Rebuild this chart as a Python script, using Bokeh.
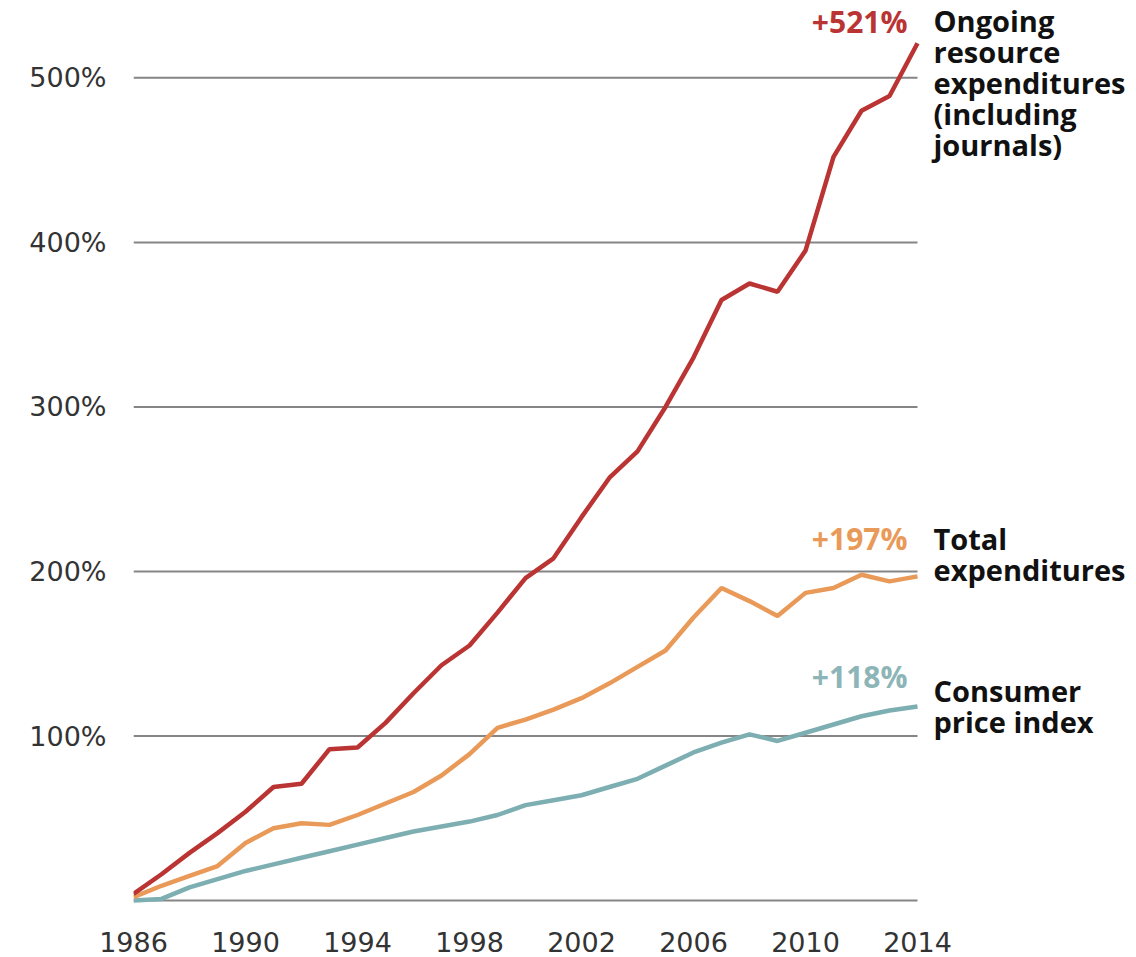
from bokeh.plotting import figure
from bokeh.models import Range1d, FixedTicker, Label, PrintfTickFormatter
from bokeh.embed import file_html
from bokeh.resources import INLINE

# ---- data (percent change since 1986) ----
years = list(range(1986, 2015))
ongoing = [4, 16, 29, 41, 54, 69, 71, 92, 93, 108, 126, 143, 155, 175, 196, 208,
           233, 257, 273, 300, 330, 365, 375, 370, 395, 452, 480, 489, 521]
total = [2, 9, 15, 21, 35, 44, 47, 46, 52, 59, 66, 76, 89, 105, 110, 116,
         123, 132, 142, 152, 172, 190, 182, 173, 187, 190, 198, 194, 197]
cpi = [0, 1, 8, 13, 18, 22, 26, 30, 34, 38, 42, 45, 48, 52, 58, 61,
       64, 69, 74, 82, 90, 96, 101, 97, 102, 107, 112, 115.5, 118]

x_ticks = [1986, 1990, 1994, 1998, 2002, 2006, 2010, 2014]
y_ticks = [0, 100, 200, 300, 400, 500]

end_labels = ["+521%", "+197%", "+118%"]
series_names = [["Ongoing", "resource", "expenditures", "(including", "journals)"],
                ["Total", "expenditures"],
                ["Consumer", "price index"]]

RED = "#BA3433"
ORANGE = "#E99A58"
TEAL = "#7DAEB2"
TEAL_TXT = "#8DB5B7"
GRID = "#858585"

W, H = 1136, 957
LEFT = 133
PX_PER_YEAR = 28.0

p = figure(width=W, height=H,
           x_range=Range1d(years[0], years[0] + (W - LEFT) / PX_PER_YEAR),
           y_range=Range1d(-3, 547),
           output_backend="svg", toolbar_location=None,
           min_border_left=LEFT, min_border_right=0,
           min_border_top=0, min_border_bottom=52)
p.outline_line_color = None
p.background_fill_color = "white"
p.border_fill_color = "white"

# axes
p.xaxis.ticker = FixedTicker(ticks=x_ticks)
p.yaxis.ticker = FixedTicker(ticks=y_ticks)
p.yaxis.formatter = PrintfTickFormatter(format="%d%%")
p.yaxis.major_label_overrides = {0: ""}
for ax in (p.xaxis, p.yaxis):
    ax.axis_line_color = None
    ax.major_tick_line_color = None
    ax.minor_tick_line_color = None
    ax.major_label_text_font = "DejaVu Sans"
    ax.major_label_text_font_size = "27px"
    ax.major_label_text_color = "#333333"
p.yaxis.major_label_standoff = 21
p.xaxis.major_label_standoff = 20

# horizontal gridlines only across the data span (1986-2014)
p.xgrid.grid_line_color = None
p.ygrid.grid_line_color = None
p.segment(x0=[years[0]] * len(y_ticks), x1=[years[-1]] * len(y_ticks),
          y0=y_ticks, y1=y_ticks, line_color=GRID, line_width=2)

# lines
p.line(years, cpi, line_color=TEAL, line_width=4.5)
p.line(years, total, line_color=ORANGE, line_width=4.5)
p.line(years, ongoing, line_color=RED, line_width=4.5)

# labels
series = [ongoing, total, cpi]
colors = [RED, ORANGE, TEAL_TXT]
value_offsets = [22, 38, 30]
name_offsets = [23, 38, 16]
LINE_STEP = 31
for vals, lab, names, col, vo, no in zip(series, end_labels, series_names,
                                         colors, value_offsets, name_offsets):
    p.add_layout(Label(x=years[-1], y=vals[-1], x_offset=-10, y_offset=vo,
                       text=lab, text_align="right", text_baseline="alphabetic",
                       text_font="Open Sans", text_font_style="bold",
                       text_font_size="30px", text_color=col))
    for i, nm in enumerate(names):
        p.add_layout(Label(x=years[-1], y=vals[-1], x_offset=16,
                           y_offset=no - LINE_STEP * i, text=nm,
                           text_align="left", text_baseline="alphabetic",
                           text_font="Open Sans", text_font_style="bold",
                           text_font_size="29px", text_color="#111111"))

open("out.html", "w").write(file_html(p, INLINE))
